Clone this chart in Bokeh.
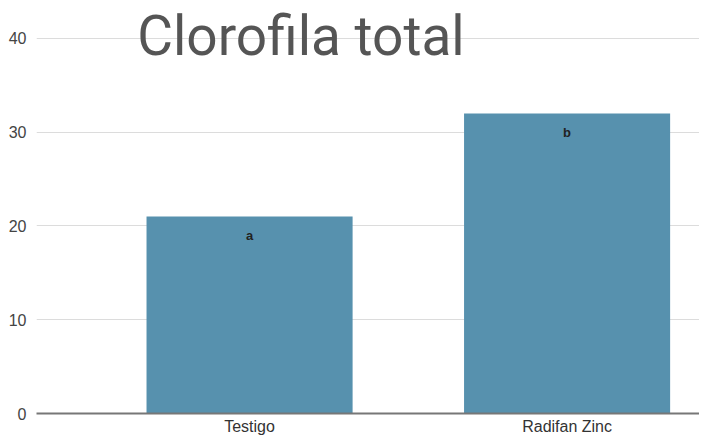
from bokeh.plotting import figure
from bokeh.models import Range1d, FixedTicker, ColumnDataSource, Label
from bokeh.core.properties import value
from bokeh.embed import file_html
from bokeh.resources import INLINE

categories = ["Testigo", "Radifan Zinc"]
clorofila = [21, 32]
letters = ["a", "b"]
y_ticks = [0, 10, 20, 30, 40]
title_text = "Clorofila total"

xs = list(range(len(categories)))
src = ColumnDataSource(dict(x=xs, top=clorofila, lab=letters))

p = figure(width=699, height=437, output_backend="svg", toolbar_location=None,
           x_range=Range1d(-0.671, 1.417), y_range=Range1d(0, 44.04),
           min_border_left=36, min_border_right=0, min_border_top=0, min_border_bottom=23)
p.outline_line_color = None
p.background_fill_color = "white"
p.border_fill_color = "white"

p.vbar(x="x", top="top", width=0.649, bottom=0, source=src,
       fill_color="#5791ae", line_color=None)
p.text(x="x", y="top", text="lab", source=src, y_offset=19,
       text_align="center", text_baseline="middle",
       text_font=value("Liberation Sans"), text_font_size="13px",
       text_font_style="bold", text_color="#222222")

p.xgrid.grid_line_color = None
p.ygrid.grid_line_color = "#dcdcdc"
p.ygrid.grid_line_width = 1

p.xaxis.ticker = FixedTicker(ticks=xs)
p.xaxis.major_label_overrides = {i: c for i, c in enumerate(categories)}
p.xaxis.major_tick_line_color = None
p.xaxis.major_tick_out = 0
p.xaxis.major_tick_in = 0
p.xaxis.minor_tick_line_color = None
p.xaxis.axis_line_color = "#777777"
p.xaxis.axis_line_width = 2
p.xaxis.major_label_standoff = 4
p.xaxis.major_label_text_font = "Liberation Sans"
p.xaxis.major_label_text_font_size = "16px"
p.xaxis.major_label_text_color = "#333333"

p.yaxis.ticker = FixedTicker(ticks=y_ticks)
p.yaxis.axis_line_color = None
p.yaxis.major_tick_line_color = None
p.yaxis.major_tick_out = 0
p.yaxis.major_tick_in = 0
p.yaxis.minor_tick_line_color = None
p.yaxis.major_label_standoff = 10
p.yaxis.major_label_text_font = "Liberation Sans"
p.yaxis.major_label_text_font_size = "16px"
p.yaxis.major_label_text_color = "#444444"

p.add_layout(Label(x=-0.354, y=40.21, text=title_text, text_font="Roboto",
                   text_font_size="55px", text_color="#555555",
                   text_align="left", text_baseline="middle"))

open("out.html", "w").write(file_html(p, INLINE))
